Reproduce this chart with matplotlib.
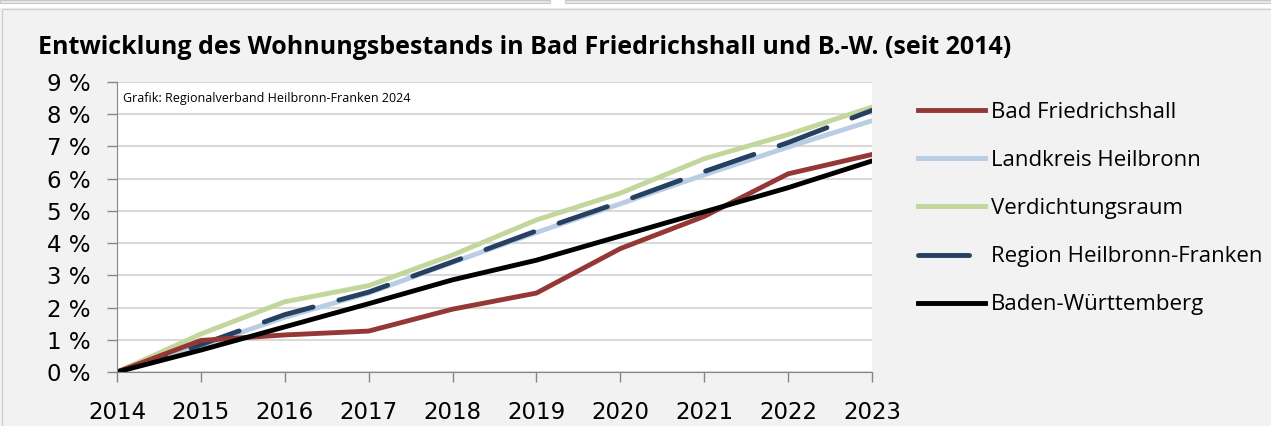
import matplotlib
matplotlib.use("Agg")
from matplotlib import pyplot as plt
from matplotlib.patches import Rectangle

jahre = [2014, 2015, 2016, 2017, 2018, 2019, 2020, 2021, 2022, 2023]

bad_friedrichshall = [0, 0.98, 1.15, 1.27, 1.95, 2.45, 3.83, 4.83, 6.15, 6.75]
landkreis_heilbronn = [0, 0.80, 1.70, 2.45, 3.40, 4.33, 5.22, 6.12, 6.98, 7.80]
verdichtungsraum = [0, 1.18, 2.18, 2.68, 3.63, 4.72, 5.55, 6.62, 7.37, 8.22]
region_hnf = [0, 0.85, 1.78, 2.48, 3.42, 4.38, 5.27, 6.22, 7.12, 8.12]
baden_wuerttemberg = [0, 0.68, 1.40, 2.12, 2.86, 3.47, 4.22, 4.97, 5.72, 6.55]

y_ticks = list(range(0, 10))
y_labels = [f"{v} %" for v in y_ticks]

titel = "Entwicklung des Wohnungsbestands in Bad Friedrichshall und B.-W. (seit 2014)"
quelle = "Grafik: Regionalverband Heilbronn-Franken 2024"

bg = "#f2f2f2"
fig = plt.figure(figsize=(12.71, 4.26), dpi=100, facecolor=bg)

# obere Leiste (Reste der Seite)
fig.patches.append(Rectangle((0, 1 - 8 / 426), 1, 8 / 426, transform=fig.transFigure,
                             facecolor="white", edgecolor="none", zorder=-3))
fig.patches.append(Rectangle((0, 1 - 3 / 426), 550 / 1271, 3 / 426, transform=fig.transFigure,
                             facecolor="#e8e8e8", edgecolor="#c8c8c8", lw=0.8, zorder=-2))
fig.patches.append(Rectangle((565 / 1271, 1 - 3 / 426), 1, 3 / 426, transform=fig.transFigure,
                             facecolor="#e8e8e8", edgecolor="#c8c8c8", lw=0.8, zorder=-2))
fig.patches.append(Rectangle((2 / 1271, -0.01), 1.1, 1 - 9 / 426 + 0.01, transform=fig.transFigure,
                             facecolor=bg, edgecolor="#d0d0d0", lw=1.0, zorder=-2))

ax = fig.add_axes([117 / 1271, 1 - 372 / 426, (872 - 117) / 1271, (372 - 82) / 426])
ax.set_facecolor("white")

lw = 3.5
l_vr, = ax.plot(jahre, verdichtungsraum, color="#c3d69b", lw=lw, label="Verdichtungsraum",
                solid_joinstyle="round")
l_lk, = ax.plot(jahre, landkreis_heilbronn, color="#b9cde5", lw=lw, label="Landkreis Heilbronn",
                solid_joinstyle="round")
l_rg, = ax.plot(jahre, region_hnf, color="#254061", lw=lw, label="Region Heilbronn-Franken",
                dashes=(10.5, 5.5), dash_capstyle="round")
l_bf, = ax.plot(jahre, bad_friedrichshall, color="#953735", lw=lw, label="Bad Friedrichshall",
                solid_joinstyle="round")
l_bw, = ax.plot(jahre, baden_wuerttemberg, color="black", lw=lw, label="Baden-Württemberg",
                solid_joinstyle="round")

ax.set_xlim(2014, 2023)
ax.set_ylim(0, 9)
ax.set_xticks(jahre)
ax.set_yticks(y_ticks)
ax.set_yticklabels(y_labels)
ax.grid(axis="y", color="#d9d9d9", lw=1.5)
ax.set_axisbelow(True)
for s in ["top", "right"]:
    ax.spines[s].set_visible(False)
ax.spines["left"].set_color("#868686")
ax.spines["bottom"].set_color("#868686")
ax.tick_params(axis="both", colors="#868686", length=7, width=1, labelcolor="black")
ax.tick_params(axis="x", pad=14)
ax.tick_params(axis="y", pad=12)
for lab in ax.get_xticklabels() + ax.get_yticklabels():
    lab.set_fontsize(16.5)

ax.text(0.008, 0.965, quelle, transform=ax.transAxes, fontsize=9, va="top", ha="left",
        family="Open Sans")

fig.text(38 / 1271, 1 - 48 / 426, titel, fontsize=18, fontweight="bold", va="center",
         ha="left", family="Open Sans")

handles = [l_bf, l_lk, l_vr, l_rg, l_bw]
leg = fig.legend(handles=handles, labels=[h.get_label() for h in handles], loc="upper left",
                 bbox_to_anchor=(898 / 1271, 1 - 82 / 426), frameon=False,
                 handlelength=3.0, handletextpad=0.3, labelspacing=1.22,
                 prop={"family": "Open Sans", "size": 16})

fig.savefig("out.png", dpi=100, facecolor=bg)
